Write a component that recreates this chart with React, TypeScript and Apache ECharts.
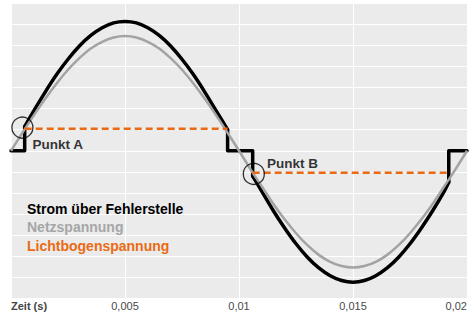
import React, { useEffect, useRef } from "react";
import * as echarts from "echarts";

const xTickLabels = ["Zeit (s)", "0,005", "0,01", "0,015", "0,02"];
const seriesNames = ["Strom über Fehlerstelle", "Netzspannung", "Lichtbogenspannung"];
const colors = { strom: "#000000", netz: "#a3a3a3", bogen: "#ea6a14" };

// Netzspannung (grey sine)
const netzData: [number, number][] = [
  [0, 0], [0.0005, 0.85], [0.001, 1.68], [0.0015, 2.47], [0.002, 3.2], [0.0025, 3.85],
  [0.003, 4.4], [0.0035, 4.86], [0.004, 5.18], [0.0045, 5.38], [0.005, 5.45],
  [0.0055, 5.38], [0.006, 5.18], [0.0065, 4.86], [0.007, 4.4], [0.0075, 3.85],
  [0.008, 3.2], [0.0085, 2.47], [0.009, 1.68], [0.0095, 0.85], [0.01, 0],
  [0.0105, -0.87], [0.011, -1.7], [0.0115, -2.52], [0.012, -3.26], [0.0125, -3.92],
  [0.013, -4.49], [0.0135, -4.95], [0.014, -5.28], [0.0145, -5.48], [0.015, -5.55],
  [0.0155, -5.48], [0.016, -5.28], [0.0165, -4.95], [0.017, -4.49], [0.0175, -3.92],
  [0.018, -3.26], [0.0185, -2.52], [0.019, -1.7], [0.0195, -0.87], [0.02, 0],
];

// Strom über Fehlerstelle (black), split into step parts and arcs
const stromStep1: [number, number][] = [[0, 0], [0.0006, 0], [0.0006, 1.15]];
const stromArc1: [number, number][] = [
  [0.0006, 1.15], [0.001, 1.9], [0.0015, 2.79], [0.002, 3.62], [0.0025, 4.35], [0.003, 4.98],
  [0.0035, 5.48], [0.004, 5.85], [0.0045, 6.08], [0.005, 6.15], [0.0055, 6.08], [0.006, 5.85],
  [0.0065, 5.48], [0.007, 4.98], [0.0075, 4.35], [0.008, 3.62], [0.0085, 2.79], [0.009, 1.9],
  [0.0095, 1.0],
];
const stromStep2: [number, number][] = [[0.0095, 1.0], [0.0095, 0], [0.0106, 0], [0.0106, -1.2]];
const stromArc2: [number, number][] = [
  [0.0106, -1.2], [0.011, -1.93], [0.0115, -2.84], [0.012, -3.67], [0.0125, -4.42], [0.013, -5.06],
  [0.0135, -5.57], [0.014, -5.94], [0.0145, -6.17], [0.015, -6.25], [0.0155, -6.17], [0.016, -5.94],
  [0.0165, -5.57], [0.017, -5.06], [0.0175, -4.42], [0.018, -3.67], [0.0185, -2.84], [0.019, -1.93],
  [0.0192, -1.5],
];
const stromStep3: [number, number][] = [[0.0192, -1.5], [0.0192, 0], [0.02, 0]];

// Lichtbogenspannung (orange dashed)
const bogenPos: [number, number][] = [[0.0006, 1.05], [0.0095, 1.05]];
const bogenNeg: [number, number][] = [[0.0106, -1.05], [0.0193, -1.05]];

// Marked points
const punkte = [
  { name: "Punkt A", value: [0.0005, 1.1] },
  { name: "Punkt B", value: [0.01065, -1.1] },
];

const FONT = "'Liberation Sans', Arial, Helvetica, sans-serif";

export default function App() {
  const ref = useRef<HTMLDivElement>(null);
  useEffect(() => {
    if (!ref.current) return;
    const chart = echarts.init(ref.current, undefined, { renderer: "svg" });
    const blackLine = (data: [number, number][], smooth: boolean | number) => ({
      type: "line",
      name: seriesNames[0],
      data,
      smooth,
      showSymbol: false,
      symbol: "none",
      silent: true,
      z: 2,
      lineStyle: { color: colors.strom, width: 3.5, cap: "round", join: "round" },
      itemStyle: { color: colors.strom },
    });
    const orangeLine = (data: [number, number][]) => ({
      type: "line",
      name: seriesNames[2],
      data,
      showSymbol: false,
      symbol: "none",
      silent: true,
      z: 4,
      lineStyle: { color: colors.bogen, width: 2.5, type: [7, 4] },
      itemStyle: { color: colors.bogen },
    });
    chart.setOption({
      animation: false,
      textStyle: { fontFamily: FONT },
      grid: {
        left: 11,
        right: 9,
        top: 3.5,
        bottom: 22,
        show: true,
        backgroundColor: "#ebebeb",
        borderWidth: 0,
      },
      legend: {
        show: true,
        orient: "vertical",
        left: 22,
        top: 201.5,
        padding: 0,
        icon: "none",
        itemWidth: 0,
        itemHeight: 14,
        itemGap: 4.5,
        selectedMode: false,
        textStyle: { fontSize: 14, fontWeight: "bold", fontFamily: FONT },
        data: [
          { name: seriesNames[0], textStyle: { color: colors.strom } },
          { name: seriesNames[1], textStyle: { color: "#a6a6a6" } },
          { name: seriesNames[2], textStyle: { color: colors.bogen } },
        ],
      },
      xAxis: {
        type: "value",
        min: 0,
        max: 0.02,
        interval: 0.005,
        axisLine: { show: false },
        axisTick: { show: false },
        splitLine: { show: true, lineStyle: { color: "#ffffff", width: 1 } },
        axisLabel: {
          margin: 2,
          fontSize: 11,
          color: "#4a4a4a",
          fontFamily: FONT,
          alignMinLabel: "left",
          alignMaxLabel: "right",
          formatter: (v: number) => {
            const i = Math.round(v / 0.005);
            return i === 0 ? "{b|" + xTickLabels[0] + "}" : xTickLabels[i] ?? "";
          },
          rich: { b: { fontWeight: "bold", fontSize: 11, color: "#444444", fontFamily: FONT } },
        },
      },
      yAxis: {
        type: "value",
        min: -7,
        max: 7,
        interval: 1,
        axisLine: { show: false },
        axisTick: { show: false },
        axisLabel: { show: false },
        splitLine: { show: true, lineStyle: { color: "#ffffff", width: 1 } },
      },
      series: [
        blackLine(stromStep1, false),
        blackLine(stromArc1, 0.3),
        blackLine(stromStep2, false),
        blackLine(stromArc2, 0.3),
        blackLine(stromStep3, false),
        {
          type: "line",
          name: seriesNames[1],
          data: netzData,
          smooth: 0.3,
          showSymbol: false,
          symbol: "none",
          silent: true,
          z: 3,
          lineStyle: { color: colors.netz, width: 2.5 },
          itemStyle: { color: colors.netz },
        },
        orangeLine(bogenPos),
        orangeLine(bogenNeg),
        {
          type: "scatter",
          name: "Punkte",
          data: punkte,
          symbol: "circle",
          symbolSize: 21,
          silent: true,
          z: 5,
          itemStyle: { color: "rgba(0,0,0,0)", borderColor: "#000000", borderWidth: 1.3 },
          label: {
            show: true,
            formatter: (p: any) => p.name,
            position: "right",
            distance: 0,
            fontSize: 13.5,
            fontWeight: "bold",
            color: "#000000",
            fontFamily: FONT,
          },
          labelLayout: (p: any) =>
            p.dataIndex === 0 ? { dx: -1, dy: 17 } : { dx: 2, dy: -10 },
        },
      ],
    });
    return () => chart.dispose();
  }, []);
  return (
    <div
      ref={ref}
      style={{ position: "absolute", left: 0, top: 0, width: 476, height: 320 }}
    />
  );
}
